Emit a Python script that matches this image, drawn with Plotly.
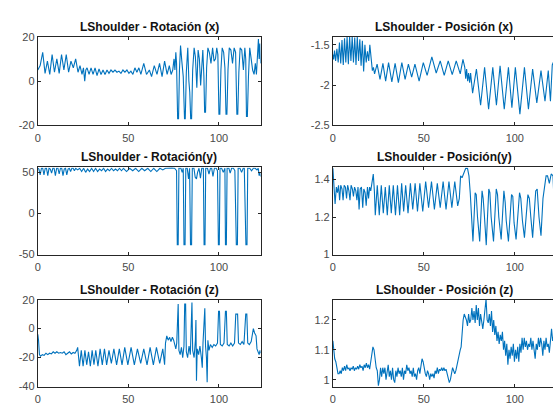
import plotly.graph_objects as go

# ---------------- data ----------------
rot_x = [(0,5),(1.3,7),(2.7,13),(4.0,3.5),(5.3,9),(6.6,3),(7.9,12),(9.2,4),(10.5,10),(11.8,3.5),
         (13.1,12),(14.4,5),(15.7,12),(17.0,4),(18.3,9),(19.6,6),(20.9,10),(22.2,4),(23.3,7),(24.4,3),
         (25.2,6),(25.9,0),(26.5,5),(27.2,6),(28.3,3),(29.4,6),(30.5,3),(31.6,6),(32.7,2.5),(33.8,5.5),
         (34.9,3),(36,5),(37.1,3),(38.2,5),(39.3,3.5),(40.4,5),(41.5,4),(42.6,5),(43.7,4),(44.8,4.5),
         (45.9,3.5),(47,5),(48.1,4),(49.2,5),(50.3,3.5),(51.4,4.5),(52.5,3),(53.6,6),(54.7,4),(55.8,6),
         (56.9,3),(58.5,8),(60,3),(61.6,5),(62.8,2),(64.3,7),(65.8,3),(67.2,8),(68.6,2),(70,9),(71.4,3),
         (72.6,7),(73.6,3),(74.5,5),(75.2,10),(75.7,5),(76.2,13),(76.6,8),(77.2,-17),(77.7,-17),(78.2,5),
         (78.8,16),(79.5,9),(80.3,2),(81,-17),(81.4,-17),(82,4),(82.8,15),(83.4,0),(83.9,-5),(84.4,-17),
         (84.9,-17),(85.5,5),(86.3,15),(87,11),(87.8,-3),(88.5,14),(89.2,10),(89.9,-2),(90.5,8),(91.1,14),
         (91.7,2),(92.1,-14),(92.6,-14),(93.2,6),(93.9,15),(94.7,13),(95.6,8),(96.5,15),(97.3,9),(98.1,10),
         (98.8,15),(99.4,12),(100,-15),(100.5,-15),(101.1,5),(101.8,15),(102.6,13),(103.3,6),(103.9,-15),
         (104.4,-15),(105,5),(105.7,15),(106.6,14),(107.5,8),(108.4,15),(109.2,13),(109.9,-15),(110.4,-15),
         (111,4),(111.7,15),(112.6,14),(113.5,5),(114.3,15),(114.8,10),(115.2,-16),(115.7,-16),(116.3,2),
         (117,15),(117.8,10),(118.6,5),(119.4,3),(120.1,8),(120.7,3),(121.3,15),(121.8,19),(122.2,10),
         (122.6,17),(123,8)]

pos_x = [(0,-1.62),(0.4,-1.68),(0.9,-1.57),(1.5,-1.7),(2.2,-1.55),(2.9,-1.72),(3.6,-1.47),(4.3,-1.73),
         (5,-1.44),(5.7,-1.75),(6.4,-1.42),(7.1,-1.72),(7.8,-1.4),(8.5,-1.74),(9.2,-1.4),(9.9,-1.7),
         (10.6,-1.4),(11.3,-1.72),(12,-1.41),(12.7,-1.75),(13.4,-1.4),(14.1,-1.7),(14.8,-1.43),(15.5,-1.76),
         (16.2,-1.45),(16.9,-1.83),(17.6,-1.5),(18.3,-1.72),(19,-1.58),(19.7,-1.7),(20.3,-1.5),(21,-1.7),
         (21.7,-1.82),(22.3,-1.78),(22.9,-1.86),(24.3,-1.74),(25.9,-1.93),(27.5,-1.73),(29,-1.95),
         (30.6,-1.72),(32.4,-1.96),(34.2,-1.73),(36,-1.97),(37.9,-1.72),(39.7,-1.93),(41.5,-1.74),
         (43.3,-1.9),(45.1,-1.74),(47.4,-1.95),(49.7,-1.72),(51.8,-1.88),(54.4,-1.65),(56.8,-1.85),
         (59,-1.7),(61.2,-1.88),(63.4,-1.7),(65.6,-1.87),(67.8,-1.7),(70,-1.86),(71.5,-1.68),(72.5,-1.78),
         (73,-1.92),(73.5,-1.8),(74.1,-1.95),(74.6,-1.85),(75.2,-1.97),(75.7,-1.85),(76.8,-2.1),
         (78.9,-1.8),(81.2,-2.25),(83.4,-1.78),(85.6,-2.3),(87.9,-1.78),(89.9,-2.25),(91.9,-1.76),
         (94.2,-2.3),(96.5,-1.78),(98.4,-2.28),(100.3,-1.78),(102.8,-2.36),(105.3,-1.78),(107.5,-2.3),
         (109.8,-1.8),(112.1,-2.22),(114.4,-1.82),(116.6,-2.2),(118.4,-1.82),(119.6,-2.2),(120.6,-1.75),
         (121.5,-1.7)]

rot_y = [(0,55),(0.6,54),(1.3,47),(2,55),(2.7,55),(3.4,47),(4.1,55),(4.8,55),(5.5,46),(6.2,55),
         (6.9,54),(7.6,49),(8.3,55),(9,55),(9.7,46),(10.4,55),(11.1,55),(11.8,48),(12.5,55),(13.2,55),
         (13.9,46),(14.6,54),(15.3,55),(16,47),(16.7,54),(17.4,55),(18.1,51),(18.8,55),(19.5,55),
         (20.2,52),(20.9,55),(22,53),(23.1,55),(24.2,51),(25.3,55),(26.4,50),(27.5,54),(28.6,51),
         (29.7,55),(30.8,51),(31.9,55),(33,51),(34.1,54),(35.2,52),(36.3,55),(37.4,51),(38.5,54),
         (39.6,52),(40.7,55),(41.8,52),(42.9,54),(44,52),(45.1,55),(46.2,52),(47.3,55),(49,51),
         (50.7,55),(52.4,52),(54,55),(55.7,51),(57.4,55),(59,52),(60.7,55),(62.4,51),(64,55),(65.7,51),
         (67.4,55),(69,53),(70.5,55),(72,55.5),(74,55.5),(75.5,55),(76,54),(76.6,52),(77,-38),
         (77.5,-38),(77.9,55),(79,55),(79.7,50),(80.3,55),(80.7,-38),(81.3,-38),(81.7,55),(82.5,55),
         (83.2,42),(83.8,55),(84.3,-38),(84.9,-38),(85.3,55),(86.2,55),(86.9,44),(87.6,42),(88.2,50),
         (89,55),(89.8,43),(90.5,55),(91.4,55),(91.8,-38),(92.3,-38),(92.7,55),(93.7,55),(94.5,48),
         (95.3,55),(96,55),(96.7,45),(97.5,55),(98.5,55),(99.2,52),(99.7,-38),(100.2,-38),(100.6,55),
         (101.5,55),(102.4,50),(103.3,55),(103.6,-38),(104.1,-38),(104.5,55),(105.5,55),(106.2,49),
         (107,55),(108,55),(108.8,52),(109.6,-38),(110.2,-38),(110.6,55),(111.6,55),(112.5,50),
         (113.4,55),(114,55),(114.9,-38),(115.5,-38),(115.9,55),(117,55),(118,52),(119,55),(120,55),
         (121,53),(121.7,55),(122.2,46),(122.6,50),(123,45)]

pos_y = [(0,1.46),(0.5,1.4),(1.2,1.27),(1.9,1.36),(2.5,1.33),(3.1,1.37),(3.7,1.29),(4.3,1.37),
         (5,1.35),(5.6,1.29),(6.2,1.37),(6.9,1.36),(7.5,1.3),(8.1,1.37),(8.8,1.34),(9.4,1.29),(10,1.37),
         (10.7,1.35),(11.3,1.31),(11.9,1.36),(12.6,1.34),(13.2,1.29),(13.8,1.36),(14.4,1.24),(15,1.35),
         (15.7,1.36),(16.4,1.25),(17,1.35),(17.7,1.33),(18.3,1.26),(19,1.36),(19.6,1.3),(20.2,1.36),
         (20.8,1.34),(21.5,1.38),(22.2,1.43),(22.8,1.34),(23.3,1.21),(24.4,1.37),(25.5,1.21),(26.6,1.37),
         (27.7,1.22),(28.8,1.36),(29.9,1.21),(31,1.37),(32.1,1.22),(33.2,1.37),(34.4,1.21),(35.5,1.37),
         (36.7,1.21),(37.8,1.38),(38.9,1.23),(40,1.37),(41.3,1.22),(42.6,1.38),(43.9,1.24),(45.2,1.38),
         (46.5,1.23),(47.8,1.38),(49.4,1.23),(51,1.39),(52.6,1.25),(54.2,1.39),(55.8,1.24),(57.4,1.38),
         (59,1.25),(60.6,1.39),(62.2,1.24),(63.8,1.39),(65.4,1.25),(67,1.39),(68.6,1.26),(69.5,1.3),
         (70.2,1.42),(71,1.41),(72,1.44),(73,1.46),(74,1.46),(74.8,1.42),(75.5,1.33),(76.2,1.2),
         (77,1.07),(78.2,1.33),(78.8,1.32),(79.5,1.2),(80.7,1.07),(82,1.34),(82.6,1.3),(83.2,1.22),
         (84.3,1.05),(85.7,1.35),(86.3,1.33),(87,1.2),(88.3,1.07),(89.8,1.35),(90.5,1.32),(91.2,1.2),
         (92.5,1.08),(94,1.34),(94.7,1.28),(95.3,1.18),(96.5,1.07),(98.2,1.32),(98.9,1.31),(99.6,1.17),
         (100.7,1.08),(102.6,1.33),(103.3,1.3),(104.2,1.18),(105.3,1.09),(107.2,1.32),(108,1.3),
         (108.8,1.2),(109.8,1.09),(111.5,1.34),(112.3,1.35),(113.3,1.2),(114.4,1.1),(115.5,1.3),
         (116.5,1.38),(117.2,1.42),(118,1.42),(119,1.38),(120,1.43),(121,1.42),(121.5,1.3)]

rot_z = [(0,-4),(0.4,-8),(0.9,-18),(1.5,-19),(2.5,-18),(3.5,-18.5),(4.5,-17),(5.5,-18),(6.5,-17),
         (7.5,-17.5),(8.5,-16),(9.5,-17),(10.5,-16),(11.5,-17),(12.5,-16.5),(13.5,-17),(14.5,-16),
         (15.5,-18),(16.5,-17),(17.5,-16),(18.5,-17.5),(19.5,-16.5),(20.5,-17),(21.5,-15),(22,-13),
         (22.5,-18),(23,-26),(24,-15),(25,-26),(26,-15),(27,-25),(28,-16),(29,-26),(30,-15),(31,-25),
         (32,-15),(33.2,-26),(34.4,-14),(35.6,-25),(36.8,-14),(38,-25),(39.3,-15),(40.6,-24),(42,-14),
         (43.5,-25),(45,-14),(46.5,-25),(48,-13),(49.7,-25),(51.5,-13),(53.3,-25),(55,-14),(56.8,-24),
         (58.5,-14),(60.3,-25),(62,-13),(63.8,-25),(65.5,-13),(67.3,-24),(69,-14),(70,-25),(70.5,-10),
         (71.2,-5),(72,-8),(72.8,-6),(73.5,-9),(74.3,-6),(75,-8),(75.6,-12),(76.2,-14),(76.7,-10),
         (77.1,17),(77.5,17),(77.9,-15),(78.6,-18),(79.3,-13),(80,-20),(80.7,-12),(81.1,17),(81.6,17),
         (82,-16),(82.7,-20),(83.5,-12),(84.2,-18),(84.7,18),(85.1,18),(85.5,-15),(86.3,-20),(87,-8),
         (87.3,6),(87.6,-36),(88,-14),(88.8,-18),(89.5,-12),(90.3,-20),(90.8,-27),(91.2,-10),(91.8,14),
         (92.2,14),(92.6,-12),(93.1,-20),(93.5,-37),(93.9,-8),(94.5,-15),(95.3,-11),(96.3,-13),
         (97.2,-11),(98.2,-12),(99.2,-10),(99.8,12),(100.3,12),(100.8,-11),(101.8,-12),(102.8,-10),
         (103.6,12),(104.1,12),(104.6,-11),(105.6,-12),(106.6,-10),(107.6,-12),(108.6,-10),(109.3,10),
         (110.3,10),(110.8,-10),(111.8,-11),(112.8,-9),(113.8,-11),(114.8,10),(115.4,10),(115.9,-10),
         (116.8,-11),(117.8,-9),(118.5,-5),(119,0),(119.7,-3),(120.5,-5),(121,-14),(121.6,-16),
         (122.2,-18),(122.7,-15),(123,-17)]

pos_z = [(0,1.13),(0.5,1.1),(1,1.07),(1.6,1.06),(2.2,1.03),(2.8,1.02),(3.4,1.02),(4,1.03),(4.6,1.02),
         (5.2,1.04),(5.8,1.03),(6.4,1.045),(7,1.03),(7.6,1.05),(8.2,1.035),(8.8,1.04),(9.4,1.03),(10,1.04),
         (10.6,1.035),(11.2,1.045),(11.8,1.03),(12.4,1.04),(13,1.035),(13.6,1.045),(14.2,1.035),(14.8,1.05),
         (15.4,1.04),(16,1.045),(16.6,1.03),(17.2,1.05),(17.8,1.04),(18.4,1.055),(19,1.04),(19.6,1.05),
         (20.2,1.035),(20.8,1.06),(21.4,1.09),(22,1.11),(22.6,1.1),(23.2,1.06),(23.8,1.04),(24.4,1.03),
         (25,0.98),(25.6,1.0),(26.2,1.04),(26.8,1.01),(27.4,1.04),(28,1.02),(28.6,1.04),(29.2,1.0),
         (29.8,1.03),(30.4,1.05),(31,1.01),(31.6,1.03),(32.2,1.0),(32.8,1.04),(33.4,1.0),(34,0.99),
         (34.6,1.03),(35.2,1.01),(35.8,1.04),(36.4,1.02),(37,1.03),(37.6,1.01),(38.2,1.04),(38.8,1.0),
         (39.4,1.03),(40,1.02),(40.6,1.05),(41.2,1.03),(41.8,1.04),(42.4,1.02),(43,1.03),(43.6,1.01),
         (44.2,1.04),(44.8,1.01),(45.4,1.02),(46,1.0),(46.6,1.03),(47.2,1.04),(47.8,1.02),(48.4,1.04),
         (49,1.07),(49.6,1.06),(50.2,1.03),(50.8,1.02),(51.4,1.01),(52,1.03),(52.6,1.02),(53.2,1.0),
         (53.8,1.02),(54.4,1.01),(55,1.02),(55.6,1.005),(56.2,1.03),(56.8,1.02),(57.4,1.04),(58,1.02),
         (58.6,1.035),(59.2,1.03),(59.8,1.04),(60.4,1.03),(61,1.04),(61.6,1.03),(62.2,1.035),(62.8,1.02),
         (63.4,1.01),(64,0.99),(64.6,1.0),(65.2,1.02),(65.8,1.04),(66.4,1.03),(67,1.02),(67.6,1.03),
         (68.2,1.05),(68.8,1.07),(69.4,1.09),(70,1.1),(70.5,1.11),(71,1.16),(71.6,1.2),(72.2,1.22),
         (72.8,1.21),(73.4,1.2),(74,1.18),(74.6,1.22),(75.2,1.19),(75.8,1.2),(76.4,1.24),(77,1.2),
         (77.6,1.23),(78.2,1.19),(78.8,1.25),(79.4,1.2),(80,1.24),(80.6,1.18),(81.2,1.22),(81.8,1.2),
         (82.4,1.17),(83,1.2),(83.6,1.23),(84.2,1.27),(84.8,1.2),(85.4,1.19),(86,1.22),(86.6,1.18),
         (87.2,1.23),(87.8,1.16),(88.4,1.2),(89,1.15),(89.6,1.18),(90.2,1.13),(90.8,1.16),(91.4,1.12),
         (92,1.15),(92.6,1.13),(93.2,1.16),(93.8,1.1),(94.4,1.13),(95,1.08),(95.6,1.12),(96.2,1.05),
         (96.8,1.1),(97.4,1.07),(98,1.11),(98.6,1.08),(99.2,1.12),(99.8,1.06),(100.4,1.1),(101,1.07),
         (101.6,1.11),(102.2,1.06),(102.8,1.12),(103.4,1.09),(104,1.14),(104.6,1.1),(105.2,1.14),
         (105.8,1.11),(106.4,1.13),(107,1.1),(107.6,1.12),(108.2,1.11),(108.8,1.14),(109.4,1.1),
         (110,1.13),(110.6,1.09),(111.2,1.07),(111.8,1.12),(112.4,1.1),(113,1.14),(113.6,1.11),
         (114.2,1.14),(114.8,1.12),(115.4,1.08),(116,1.13),(116.6,1.1),(117.2,1.14),(117.8,1.11),
         (118.4,1.12),(119,1.09),(119.6,1.15),(120.2,1.17),(120.8,1.13),(121.5,1.15)]

titles = ["LShoulder - Rotación (x)", "LShoulder - Posición (x)",
          "LShoulder - Rotación(y)", "LShoulder - Posición(y)",
          "LShoulder - Rotación (z)", "LShoulder - Posición (z)"]

x_ticks = [0, 50, 100]
y_ticks = [[-20, 0, 20], [-2.5, -2, -1.5], [-50, 0, 50], [1, 1.2, 1.4], [-40, -20, 0, 20], [1, 1.1, 1.2]]
y_ticktext = [["-20", "0", "20"], ["-2.5", "-2", "-1.5"], ["-50", "0", "50"], ["1", "1.2", "1.4"],
              ["-40", "-20", "0", "20"], ["1", "1.1", "1.2"]]
y_ranges = [[-20, 20], [-2.5, -1.4], [-50, 56], [1, 1.465], [-40, 20], [0.977, 1.268]]
series = [rot_x, pos_x, rot_y, pos_y, rot_z, pos_z]

# ---------------- layout ----------------
W, H = 553, 410
col_dom = [[35 / W, 259 / W], [331.7 / W, 1.0]]
x_ranges = [[0, 123], [0, 121]]
row_px = [(31.7, 123), (166.3, 256), (302.5, 392)]
row_dom = [[(H - b) / H, (H - t) / H] for t, b in row_px]

fig = go.Figure()
axis_font = dict(family="Liberation Sans, Arial, sans-serif", size=11, color="#4a4a4a")
common = dict(showline=True, linecolor="#262626", linewidth=1, ticks="inside", ticklen=3,
              tickcolor="#262626", showgrid=False, zeroline=False, tickfont=axis_font)

annotations = []
for i, data in enumerate(series):
    r, c = divmod(i, 2)
    n = i + 1
    xs = [p[0] for p in data]
    ys = [p[1] for p in data]
    fig.add_trace(go.Scatter(x=xs, y=ys, mode="lines", line=dict(color="#0072BD", width=1.1),
                             xaxis=f"x{n}", yaxis=f"y{n}", showlegend=False, hoverinfo="skip"))
    xa = dict(common, domain=col_dom[c], range=x_ranges[c], anchor=f"y{n}",
              tickvals=x_ticks, ticktext=[str(v) for v in x_ticks], mirror="ticks",
              ticklabelstandoff=2)
    ya = dict(common, domain=row_dom[r], range=y_ranges[i], anchor=f"x{n}",
              tickvals=y_ticks[i], ticktext=y_ticktext[i], mirror=("ticks" if c == 0 else False))
    fig.layout[f"xaxis{n}"] = xa
    fig.layout[f"yaxis{n}"] = ya
    cx = (col_dom[c][0] + col_dom[c][1]) / 2 if c == 0 else (331.7 + 555.7) / 2 / W
    annotations.append(dict(text=f"<b>{titles[i]}</b>", xref="paper", yref="paper", x=cx,
                            y=row_dom[r][1], xanchor="center", yanchor="bottom", yshift=1,
                            showarrow=False,
                            font=dict(family="Liberation Sans, Arial, sans-serif", size=12,
                                      color="#111111")))

fig.update_layout(width=W, height=H, margin=dict(l=0, r=0, t=0, b=0),
                  paper_bgcolor="white", plot_bgcolor="white", annotations=annotations)
fig.write_html("out.html")
